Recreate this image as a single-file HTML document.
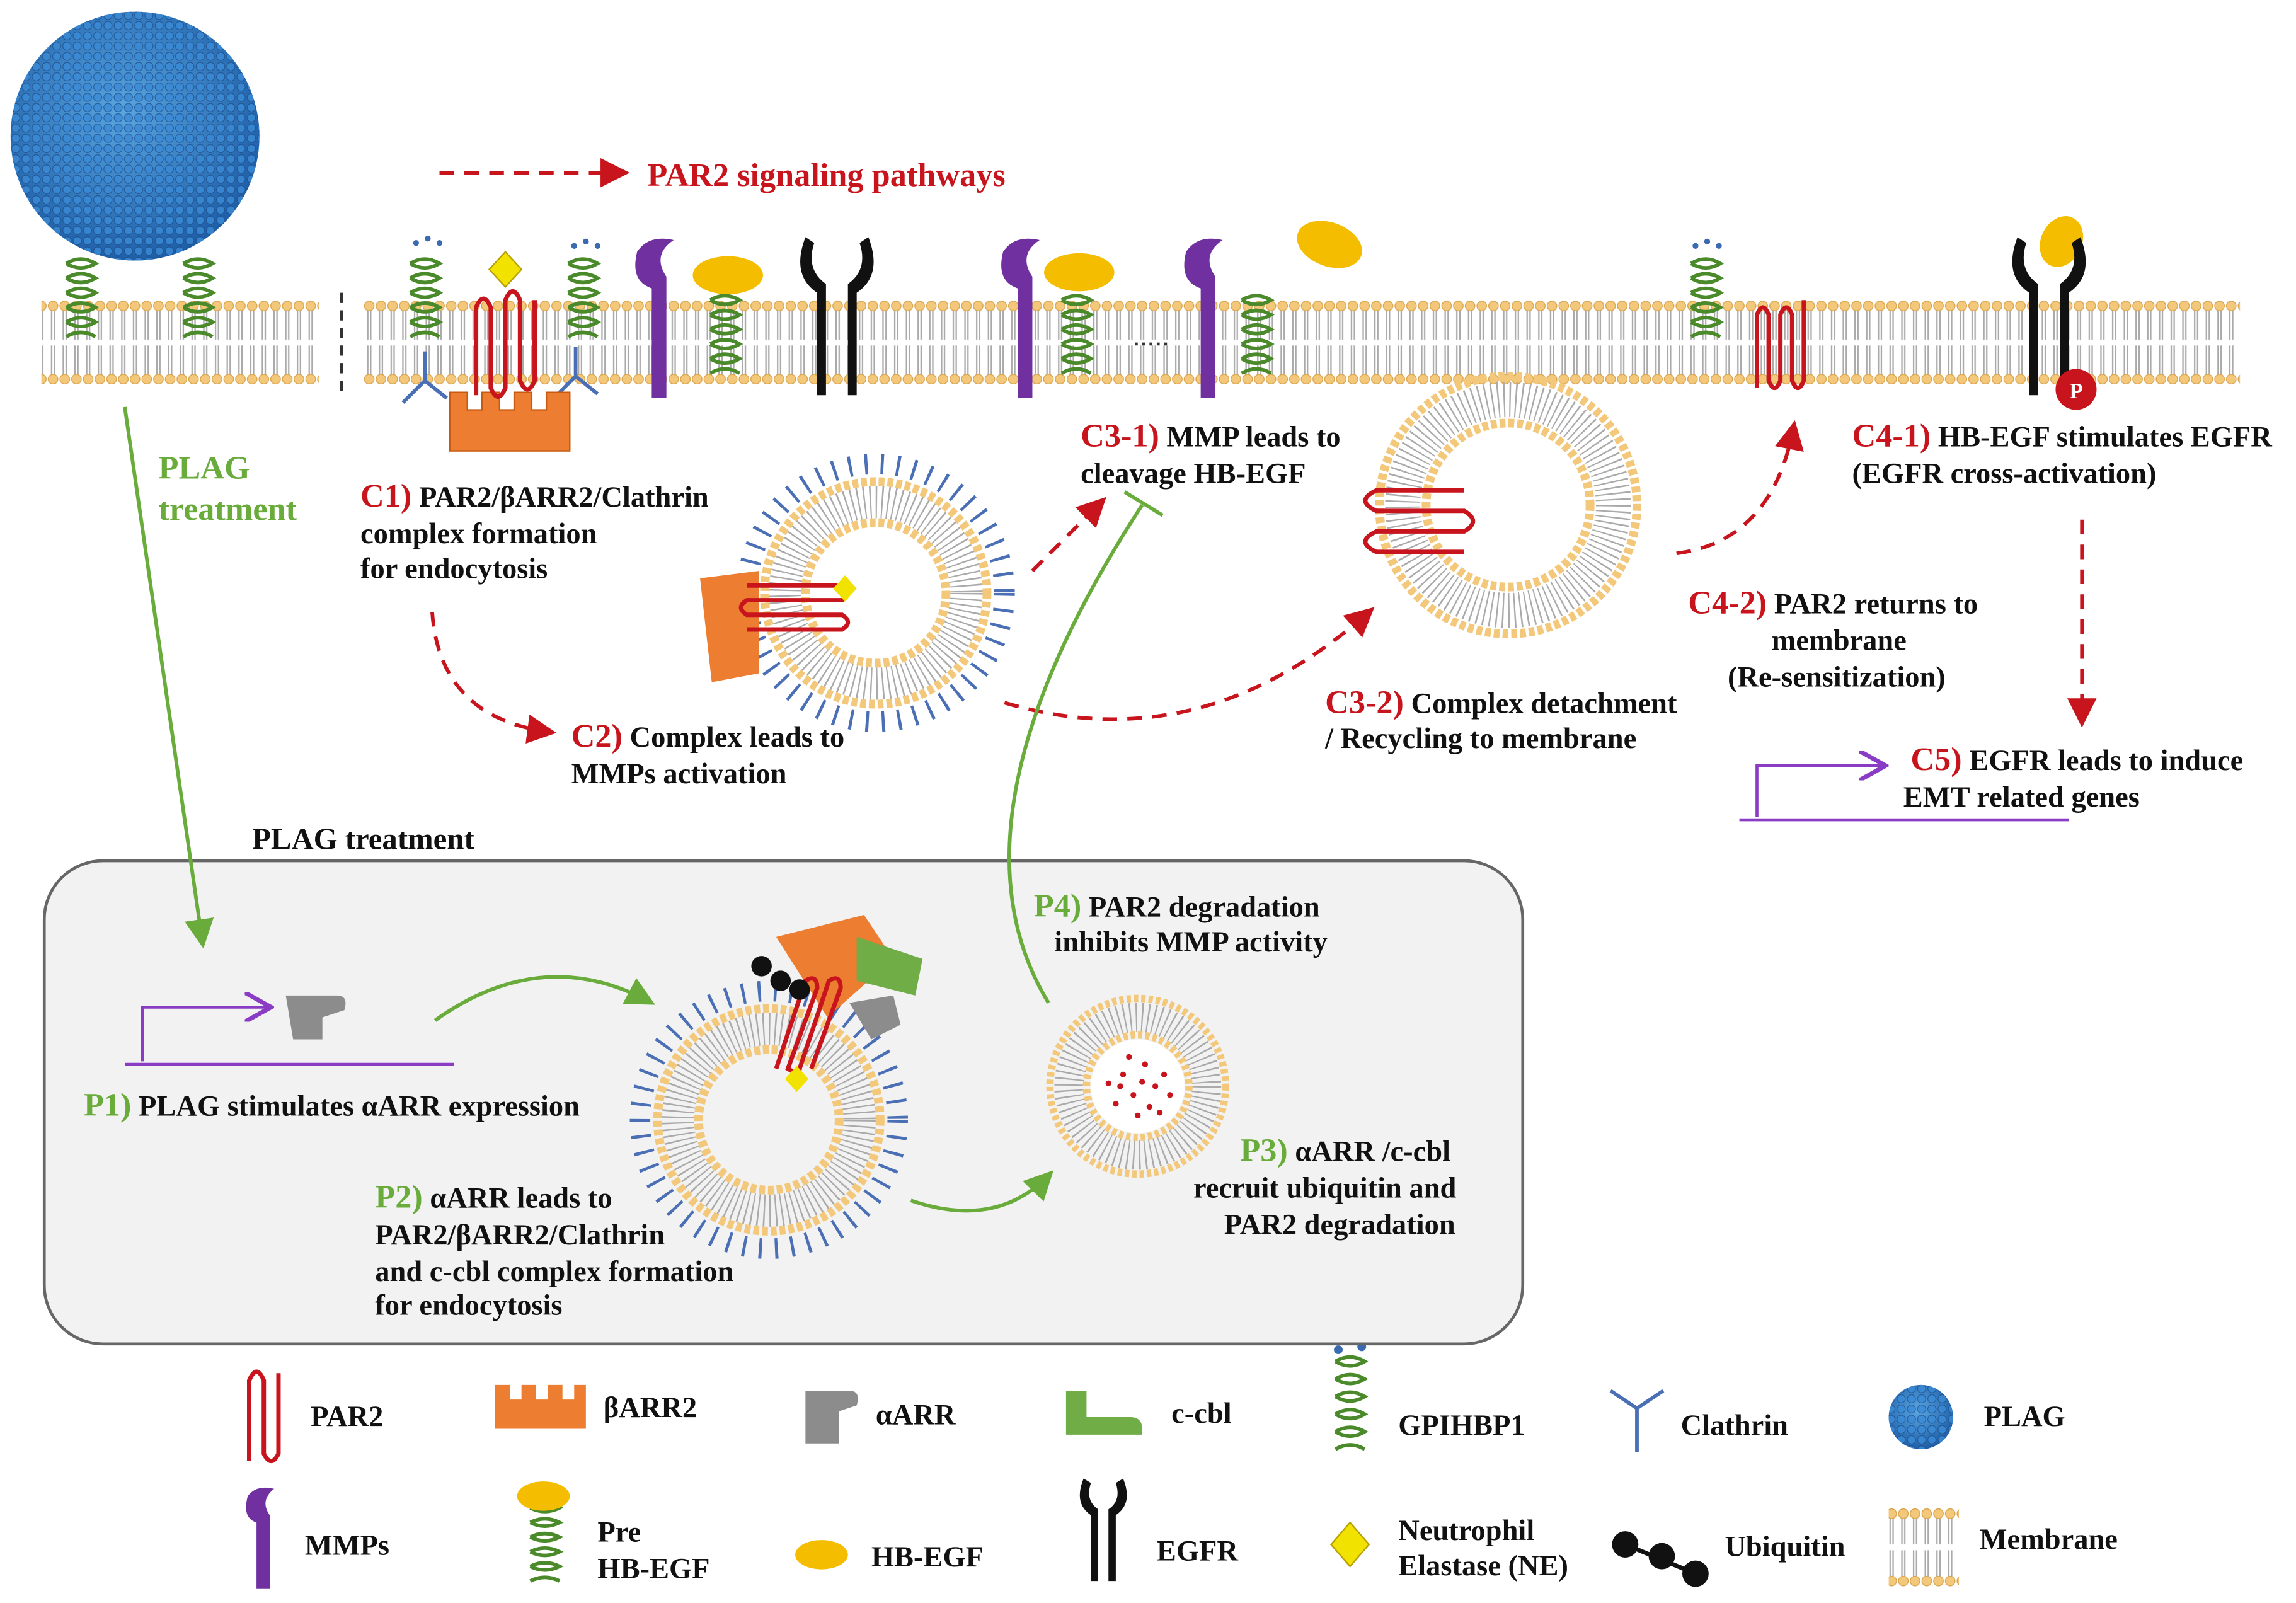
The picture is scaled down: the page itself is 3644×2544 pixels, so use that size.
<!DOCTYPE html>
<html><head><meta charset="utf-8"><style>
html,body{margin:0;padding:0;background:#fff}
svg{display:block}
text{font-family:"Liberation Serif",serif;font-weight:bold;font-size:20px;fill:#111}
.r{fill:#c8141c;font-size:22.5px}
.g{fill:#6aac3c;font-size:22.5px}
</style></head><body>
<svg width="3644" height="2544" viewBox="0 0 1568 1095" xmlns="http://www.w3.org/2000/svg">
<defs>
<pattern id="mem" x="0" y="205" width="8" height="58" patternUnits="userSpaceOnUse">
<line x1="3" y1="5" x2="3" y2="27" stroke="#aaa" stroke-width="1"/>
<line x1="5" y1="5" x2="5" y2="27" stroke="#aaa" stroke-width="1"/>
<line x1="3" y1="31" x2="3" y2="53" stroke="#aaa" stroke-width="1"/>
<line x1="5" y1="31" x2="5" y2="53" stroke="#aaa" stroke-width="1"/>
<circle cx="4" cy="4" r="3.3" fill="#f3c87a" stroke="#d9a550" stroke-width="0.6"/>
<circle cx="4" cy="54" r="3.3" fill="#f3c87a" stroke="#d9a550" stroke-width="0.6"/>
</pattern>
<pattern id="memL" x="0" y="1030" width="8" height="54" patternUnits="userSpaceOnUse">
<line x1="3" y1="5" x2="3" y2="25" stroke="#aaa" stroke-width="1"/>
<line x1="5" y1="5" x2="5" y2="25" stroke="#aaa" stroke-width="1"/>
<line x1="3" y1="29" x2="3" y2="49" stroke="#aaa" stroke-width="1"/>
<line x1="5" y1="29" x2="5" y2="49" stroke="#aaa" stroke-width="1"/>
<circle cx="4" cy="4" r="3.3" fill="#f3c87a" stroke="#d9a550" stroke-width="0.6"/>
<circle cx="4" cy="50" r="3.3" fill="#f3c87a" stroke="#d9a550" stroke-width="0.6"/>
</pattern>
<radialGradient id="sph" cx="45%" cy="40%" r="60%"><stop offset="0" stop-color="#5aa6e0"/><stop offset="1" stop-color="#1f5fa8"/></radialGradient>
<pattern id="dots" width="7" height="7" patternUnits="userSpaceOnUse"><circle cx="3.5" cy="3.5" r="2.8" fill="#3a8ad6" stroke="#1c4f8c" stroke-width="0.5"/></pattern>
<marker id="ar" markerWidth="8" markerHeight="8" refX="6" refY="4" orient="auto"><path d="M0,0 L8,4 L0,8 Z" fill="#c8141c"/></marker>
<marker id="ag" markerWidth="8" markerHeight="8" refX="6" refY="4" orient="auto"><path d="M0,0 L8,4 L0,8 Z" fill="#6aac3c"/></marker>
<marker id="ap" markerWidth="10" markerHeight="10" refX="8" refY="5" orient="auto"><path d="M0,0 L9,5 L0,10" fill="none" stroke="#8a3cc4" stroke-width="1.5"/></marker>
</defs>

<rect x="28" y="205" width="190" height="58" fill="url(#mem)"/>
<line x1="233" y1="200" x2="233" y2="272" stroke="#333" stroke-width="2" stroke-dasharray="7 5"/>
<rect x="248" y="205" width="1282" height="58" fill="url(#mem)"/>

<circle cx="92" cy="93" r="85" fill="url(#sph)"/>
<circle cx="92" cy="93" r="85" fill="url(#dots)" opacity="0.8"/>

<g fill="none" stroke="#4a8a2a" stroke-width="2.5">
<path d="M45,180 q10,-6 20,0 q-10,6 -20,0 M45,190 q10,-6 20,0 q-10,6 -20,0 M45,200 q10,-6 20,0 q-10,6 -20,0 M45,210 q10,-6 20,0 q-10,6 -20,0 M45,220 q10,-6 20,0 q-10,6 -20,0 M45,230 q10,-6 20,0"/>
<path d="M125,180 q10,-6 20,0 q-10,6 -20,0 M125,190 q10,-6 20,0 q-10,6 -20,0 M125,200 q10,-6 20,0 q-10,6 -20,0 M125,210 q10,-6 20,0 q-10,6 -20,0 M125,220 q10,-6 20,0 q-10,6 -20,0 M125,230 q10,-6 20,0"/>
<path d="M280,180 q10,-6 20,0 q-10,6 -20,0 M280,190 q10,-6 20,0 q-10,6 -20,0 M280,200 q10,-6 20,0 q-10,6 -20,0 M280,210 q10,-6 20,0 q-10,6 -20,0 M280,220 q10,-6 20,0 q-10,6 -20,0 M280,230 q10,-6 20,0"/>
<path d="M388,180 q10,-6 20,0 q-10,6 -20,0 M388,190 q10,-6 20,0 q-10,6 -20,0 M388,200 q10,-6 20,0 q-10,6 -20,0 M388,210 q10,-6 20,0 q-10,6 -20,0 M388,220 q10,-6 20,0 q-10,6 -20,0 M388,230 q10,-6 20,0"/>
<path d="M485,205 q10,-6 20,0 q-10,6 -20,0 M485,215 q10,-6 20,0 q-10,6 -20,0 M485,225 q10,-6 20,0 q-10,6 -20,0 M485,235 q10,-6 20,0 q-10,6 -20,0 M485,245 q10,-6 20,0 q-10,6 -20,0 M485,255 q10,-6 20,0"/>
<path d="M725,205 q10,-6 20,0 q-10,6 -20,0 M725,215 q10,-6 20,0 q-10,6 -20,0 M725,225 q10,-6 20,0 q-10,6 -20,0 M725,235 q10,-6 20,0 q-10,6 -20,0 M725,245 q10,-6 20,0 q-10,6 -20,0 M725,255 q10,-6 20,0"/>
<path d="M848,205 q10,-6 20,0 q-10,6 -20,0 M848,215 q10,-6 20,0 q-10,6 -20,0 M848,225 q10,-6 20,0 q-10,6 -20,0 M848,235 q10,-6 20,0 q-10,6 -20,0 M848,245 q10,-6 20,0 q-10,6 -20,0 M848,255 q10,-6 20,0"/>
<path d="M1155,180 q10,-6 20,0 q-10,6 -20,0 M1155,190 q10,-6 20,0 q-10,6 -20,0 M1155,200 q10,-6 20,0 q-10,6 -20,0 M1155,210 q10,-6 20,0 q-10,6 -20,0 M1155,220 q10,-6 20,0 q-10,6 -20,0 M1155,230 q10,-6 20,0"/>
<path d="M912,930 q10,-6 20,0 q-10,6 -20,0 M912,942 q10,-6 20,0 q-10,6 -20,0 M912,954 q10,-6 20,0 q-10,6 -20,0 M912,966 q10,-6 20,0 q-10,6 -20,0 M912,978 q10,-6 20,0 q-10,6 -20,0 M912,990 q10,-6 20,0"/>
<path d="M362,1030 q10,-5 20,0 q-10,5 -20,0 M362,1040 q10,-5 20,0 q-10,5 -20,0 M362,1050 q10,-5 20,0 q-10,5 -20,0 M362,1060 q10,-5 20,0 q-10,5 -20,0 M362,1070 q10,-5 20,0 q-10,5 -20,0 M362,1080 q10,-5 20,0"/>
</g>
<g fill="#3a6ab0"><circle cx="284" cy="166" r="2"/><circle cx="292" cy="163" r="2"/><circle cx="300" cy="166" r="2"/><circle cx="392" cy="168" r="2"/><circle cx="400" cy="165" r="2"/><circle cx="408" cy="168" r="2"/><circle cx="1158" cy="168" r="2"/><circle cx="1166" cy="165" r="2"/><circle cx="1174" cy="168" r="2"/><circle cx="914" cy="922" r="3"/><circle cx="930" cy="920" r="3"/></g>

<g stroke="#4a6fb5" stroke-width="2.5" fill="none">
<path d="M275,275 l15,-15 l15,12 M290,260 l0,-20"/>
<path d="M378,272 l15,-15 l15,12 M393,257 l0,-20"/>
</g>
<path d="M307,268 h12 v12 h10 v-12 h12 v12 h10 v-12 h12 v12 h10 v-12 h16 v40 h-82 z" fill="#ed7d31" stroke="#c55a11" stroke-width="1"/>
<path d="M325,270 v-60 q5,-12 10,0 v55 q5,12 10,0 v-60 q5,-12 10,0 v55 q5,12 10,0 v-55" fill="none" stroke="#c8141c" stroke-width="3"/>
<path d="M345,172 l11,12 l-11,12 l-11,-12 z" fill="#f2e200" stroke="#b8a000"/>

<g fill="#7030a0">
<path d="M445,272 v-75 q-15,-5 -10,-25 q8,-12 25,-8 q-15,10 -5,25 v83 z"/>
<path d="M695,272 v-75 q-15,-5 -10,-25 q8,-12 25,-8 q-15,10 -5,25 v83 z"/>
<path d="M820,272 v-75 q-15,-5 -10,-25 q8,-12 25,-8 q-15,10 -5,25 v83 z"/>
<path d="M175,1085 v-45 q-10,-3 -6,-18 q6,-8 18,-5 q-10,8 -3,18 v50 z"/>
</g>
<line x1="775" y1="235" x2="800" y2="235" stroke="#333" stroke-width="2" stroke-dasharray="2 3"/>
<g fill="#f5bd00"><ellipse cx="497" cy="188" rx="24" ry="13"/><ellipse cx="737" cy="186" rx="24" ry="13"/><ellipse cx="908" cy="167" rx="23" ry="15" transform="rotate(20 908 167)"/><ellipse cx="1408" cy="165" rx="14" ry="18" transform="rotate(25 1408 165)"/><ellipse cx="371" cy="1022" rx="18" ry="10"/><ellipse cx="561" cy="1062" rx="18" ry="10"/></g>
<g fill="#111">
<path d="M558,270 v-70 q-18,-12 -8,-38 l6,4 q-6,18 8,28 v76 z M585,270 v-70 q18,-12 8,-38 l-6,4 q6,18 -8,28 v76 z"/>
<path d="M1386,270 v-70 q-18,-12 -8,-38 l6,4 q-6,18 8,28 v76 z M1413,270 v-70 q18,-12 8,-38 l-6,4 q6,18 -8,28 v76 z"/>
<path d="M745,1080 v-45 q-12,-8 -5,-25 l5,3 q-4,12 5,18 v49 z M762,1080 v-45 q12,-8 5,-25 l-5,3 q4,12 -5,18 v49 z"/>
</g>
<circle cx="1418" cy="266" r="14" fill="#c8141c"/><text x="1418" y="272" text-anchor="middle" style="fill:#fff;font-size:15px">P</text>
<path d="M1200,265 v-50 q4,-10 8,0 v45 q4,10 8,0 v-45 q4,-10 8,0 v45 q4,10 8,0 v-55" fill="none" stroke="#c8141c" stroke-width="3"/>

<g transform="translate(598,405)">
<circle r="88" fill="none" stroke="#4a6fb5" stroke-width="14" stroke-dasharray="2 9"/>
<circle r="76" fill="none" stroke="#f3c87a" stroke-width="6" stroke-dasharray="4 2"/>
<circle r="62" fill="none" stroke="#aaa" stroke-width="22" stroke-dasharray="1 3"/>
<circle r="48" fill="none" stroke="#f3c87a" stroke-width="6" stroke-dasharray="4 2"/>
<circle r="44" fill="#fff"/>
</g>
<path d="M478,395 l40,-5 v70 l-32,6 z" fill="#ed7d31"/>
<path d="M510,400 h65 q8,5 0,10 h-65 q-8,5 0,10 h65 q8,5 0,10 h-65" fill="none" stroke="#c8141c" stroke-width="3"/>
<path d="M577,393 l8,9 l-8,9 l-8,-9 z" fill="#f2e200"/>

<g transform="translate(1030,345)">
<circle r="88" fill="none" stroke="#f3c87a" stroke-width="6" stroke-dasharray="4 2"/>
<circle r="72" fill="none" stroke="#aaa" stroke-width="24" stroke-dasharray="1 3"/>
<circle r="56" fill="none" stroke="#f3c87a" stroke-width="6" stroke-dasharray="4 2"/>
<circle r="52" fill="#fff"/>
</g>
<path d="M1000,335 h-60 q-15,7 0,14 h60 q12,7 0,14 h-60 q-15,7 0,14 h60" fill="none" stroke="#c8141c" stroke-width="3"/>

<rect x="30" y="588" width="1010" height="330" rx="40" fill="#f2f2f2" stroke="#666" stroke-width="2"/>

<g transform="translate(525,765)">
<circle r="88" fill="none" stroke="#4a6fb5" stroke-width="14" stroke-dasharray="2 9"/>
<circle r="76" fill="none" stroke="#f3c87a" stroke-width="6" stroke-dasharray="4 2"/>
<circle r="62" fill="none" stroke="#aaa" stroke-width="22" stroke-dasharray="1 3"/>
<circle r="48" fill="none" stroke="#f3c87a" stroke-width="6" stroke-dasharray="4 2"/>
<circle r="44" fill="#f2f2f2"/>
</g>
<path d="M530,640 l60,-15 l20,30 l-45,40 z" fill="#ed7d31"/>
<path d="M585,640 l45,15 l-5,25 l-40,-10 z" fill="#70ad47"/>
<path d="M580,685 l30,-5 l5,20 l-20,10 z" fill="#8c8c8c"/>
<path d="M530,730 l20,-60 q8,-5 8,5 l-20,55 q8,5 8,0 l20,-60 q8,-5 8,5 l-20,55" fill="none" stroke="#c8141c" stroke-width="3"/>
<g fill="#111"><circle cx="520" cy="660" r="7"/><circle cx="533" cy="670" r="7"/><circle cx="546" cy="676" r="7"/></g>
<path d="M544,728 l8,9 l-8,9 l-8,-9 z" fill="#f2e200"/>

<g transform="translate(777,742)">
<circle r="60" fill="none" stroke="#f3c87a" stroke-width="5" stroke-dasharray="3 2"/>
<circle r="47" fill="none" stroke="#aaa" stroke-width="20" stroke-dasharray="1 3"/>
<circle r="35" fill="none" stroke="#f3c87a" stroke-width="5" stroke-dasharray="3 2"/>
<circle r="32" fill="#fff"/>
<g fill="#c8141c"><circle cx="-10" cy="-8" r="2"/><circle cx="5" cy="-15" r="2"/><circle cx="12" cy="0" r="2"/><circle cx="-3" cy="6" r="2"/><circle cx="-15" cy="12" r="2"/><circle cx="8" cy="14" r="2"/><circle cx="18" cy="-8" r="2"/><circle cx="-20" cy="-2" r="2"/><circle cx="0" cy="20" r="2"/><circle cx="-6" cy="-20" r="2"/><circle cx="15" cy="18" r="2"/><circle cx="-12" cy="0" r="2"/><circle cx="3" cy="-3" r="2"/><circle cx="22" cy="6" r="2"/></g>
</g>

<path d="M195,680 h35 q8,0 5,10 l-15,5 v15 h-20 z" fill="#8c8c8c"/>

<g fill="none" stroke="#c8141c" stroke-width="2.5" stroke-dasharray="10 7">
<line x1="300" y1="118" x2="425" y2="118" marker-end="url(#ar)"/>
<path d="M295,418 Q300,490 375,500" marker-end="url(#ar)"/>
<path d="M705,390 L752,343" marker-end="url(#ar)"/>
<path d="M686,480 Q820,520 935,418" marker-end="url(#ar)"/>
<path d="M1145,378 Q1210,370 1225,292" marker-end="url(#ar)"/>
<path d="M1422,355 L1422,492" marker-end="url(#ar)"/>
</g>
<g fill="none" stroke="#6aac3c" stroke-width="2.5">
<path d="M85,278 L138,643" marker-end="url(#ag)"/>
<path d="M297,697 Q370,645 443,684" marker-end="url(#ag)"/>
<path d="M622,820 Q680,840 716,803" marker-end="url(#ag)"/>
<path d="M716,685 Q640,560 780,345"/>
<path d="M768,336 L794,352" />
</g>
<g fill="none" stroke="#8a3cc4" stroke-width="2">
<line x1="85" y1="727" x2="310" y2="727"/>
<path d="M97,725 V688 H183" marker-end="url(#ap)"/>
<line x1="1188" y1="560" x2="1413" y2="560"/>
<path d="M1200,558 V523 H1286" marker-end="url(#ap)"/>
</g>

<text x="442" y="127" style="fill:#c8141c;font-size:22.5px">PAR2 signaling pathways</text>
<text x="108" y="327" class="g">PLAG</text><text x="108" y="355" class="g">treatment</text>
<text x="246" y="346"><tspan class="r">C1)</tspan> PAR2/βARR2/Clathrin</text>
<text x="246" y="371">complex formation</text>
<text x="246" y="395">for endocytosis</text>
<text x="390" y="510"><tspan class="r">C2)</tspan> Complex leads to</text>
<text x="390" y="535">MMPs activation</text>
<text x="738" y="305"><tspan class="r">C3-1)</tspan> MMP leads to</text>
<text x="738" y="330">cleavage HB-EGF</text>
<text x="905" y="487"><tspan class="r">C3-2)</tspan> Complex detachment</text>
<text x="905" y="511">/ Recycling to membrane</text>
<text x="1153" y="419"><tspan class="r">C4-2)</tspan> PAR2 returns to</text>
<text x="1210" y="444">membrane</text>
<text x="1180" y="469">(Re-sensitization)</text>
<text x="1265" y="305"><tspan class="r">C4-1)</tspan> HB-EGF stimulates EGFR</text>
<text x="1265" y="330">(EGFR cross-activation)</text>
<text x="1305" y="526"><tspan class="r">C5)</tspan> EGFR leads to induce</text>
<text x="1300" y="551">EMT related genes</text>
<text x="172" y="580" style="font-size:21px">PLAG treatment</text>
<text x="706" y="626"><tspan class="g">P4)</tspan> PAR2 degradation</text>
<text x="720" y="650">inhibits MMP activity</text>
<text x="57" y="762"><tspan class="g">P1)</tspan> PLAG stimulates αARR expression</text>
<text x="256" y="825"><tspan class="g">P2)</tspan> αARR leads to</text>
<text x="256" y="850">PAR2/βARR2/Clathrin</text>
<text x="256" y="875">and c-cbl complex formation</text>
<text x="256" y="898">for endocytosis</text>
<text x="847" y="793"><tspan class="g">P3)</tspan> αARR /c-cbl</text>
<text x="815" y="818">recruit ubiquitin and</text>
<text x="836" y="843">PAR2 degradation</text>

<path d="M170,998 v-55 q5,-12 10,0 v50 q5,10 10,0 v-55" fill="none" stroke="#c8141c" stroke-width="3"/>
<text x="212" y="974">PAR2</text>
<path d="M338,946 h10 v10 h8 v-10 h10 v10 h8 v-10 h10 v10 h8 v-10 h8 v30 h-62 z" fill="#ed7d31"/>
<text x="412" y="968">βARR2</text>
<path d="M550,950 h30 q8,0 5,10 l-12,4 v22 h-23 z" fill="#8c8c8c"/>
<text x="598" y="973">αARR</text>
<path d="M728,950 h14 v18 h30 q8,0 8,8 v4 h-52 z" fill="#70ad47"/>
<text x="800" y="972">c-cbl</text>
<text x="955" y="980">GPIHBP1</text>
<g stroke="#4a6fb5" stroke-width="2.5" fill="none"><path d="M1100,950 l18,12 l18,-12 M1118,962 v30"/></g>
<text x="1148" y="980">Clathrin</text>
<circle cx="1312" cy="968" r="22" fill="url(#sph)"/><circle cx="1312" cy="968" r="22" fill="url(#dots)" opacity="0.8"/>
<text x="1355" y="974">PLAG</text>
<text x="208" y="1062">MMPs</text>
<text x="408" y="1053">Pre</text><text x="408" y="1078">HB-EGF</text>
<text x="595" y="1070">HB-EGF</text>
<text x="790" y="1066">EGFR</text>
<path d="M922,1040 l13,15 l-13,15 l-13,-15 z" fill="#f2e200" stroke="#b8a000"/>
<text x="955" y="1052">Neutrophil</text><text x="955" y="1076">Elastase (NE)</text>
<g fill="#111"><circle cx="1110" cy="1055" r="9"/><circle cx="1135" cy="1063" r="9"/><circle cx="1158" cy="1075" r="9"/></g>
<path d="M1110,1055 L1158,1075" stroke="#111" stroke-width="3"/>
<text x="1178" y="1063">Ubiquitin</text>
<rect x="1290" y="1030" width="48" height="54" fill="url(#memL)"/>
<text x="1352" y="1058">Membrane</text>
</svg>
</body></html>
